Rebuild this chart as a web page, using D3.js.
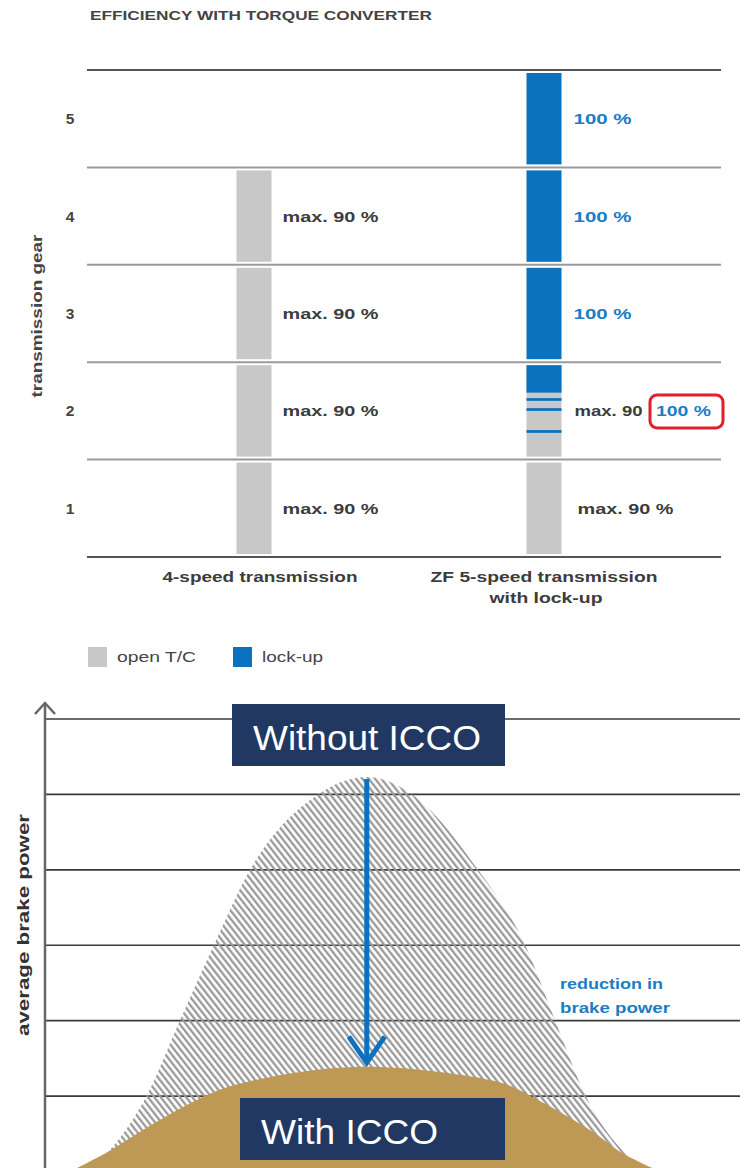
<!DOCTYPE html>
<html>
<head>
<meta charset="utf-8">
<script src="https://cdn.jsdelivr.net/npm/d3@7"></script>
<style>
  body { margin: 0; background: #fff; }
  svg { display: block; font-family: "Liberation Sans", Arial, sans-serif; }
</style>
</head>
<body>
<div id="chart"></div>
<script>
// ---- data ----
var gears = [5, 4, 3, 2, 1];
var transmissions = ["4-speed transmission", "ZF 5-speed transmission"];
// efficiency per gear (null = gear does not exist)
var fourSpeedEff = [null, 90, 90, 90, 90];
var zfEff = [100, 100, 100, "mixed", 90];
// gear 2 of the ZF box: lock-up share of the bar, as fractions from the top
var gear2LockupBands = [[0, 0.30], [0.36, 0.39], [0.47, 0.50], [0.71, 0.74]];
var legendItems = ["open T/C", "lock-up"];

// brake power curves (x: 0-100 drive cycle, y: grid units)
var withoutX = [6.5, 14.6, 19.4, 24.3, 29.5, 39.3, 46.3, 52.8, 62.3, 69.1, 73.4, 77.8, 86.3];
var withoutY = [0, 1.0, 2.0, 3.0, 4.0, 5.0, 5.23, 5.0, 4.0, 3.0, 2.0, 1.0, 0];
var withX = [3.6, 9.2, 14.1, 23.0, 29.6, 36.7, 46.3, 56.8, 64.7, 69.9, 78.4, 82.6, 88.5];
var withY = [0, 0.27, 0.55, 1.0, 1.2, 1.32, 1.39, 1.32, 1.2, 1.0, 0.55, 0.27, 0];
var gridLevels = [1, 2, 3, 4, 5, 6];

var svgWidth = 744;
var svgHeight = 1168;

var svg = d3.select("#chart")
    .append("svg")
    .attr("width", svgWidth)
    .attr("height", svgHeight);

var blue = "#0a72be";
var blueText = "#1b7dc6";
var grey = "#c8c8c8";
var textCol = "#3c3c3c";

// ================= upper chart =================
var yGear = d3.scaleBand()
    .domain(gears)
    .range([70, 557]);

var xTrans = d3.scalePoint()
    .domain(transmissions)
    .range([254, 544]);

var barW = 35;
var inset = 3;

svg.append("text")
    .attr("x", 90)
    .attr("y", 20)
    .attr("font-size", 13)
    .attr("font-weight", "bold")
    .attr("fill", "#444")
    .attr("textLength", 342)
    .attr("lengthAdjust", "spacingAndGlyphs")
    .text("EFFICIENCY WITH TORQUE CONVERTER");

// row lines
var rowEdges = gears.map(g => yGear(g)).concat([yGear.range()[1]]);
svg.selectAll(".row-line")
    .data(rowEdges)
    .enter()
    .append("line")
    .attr("x1", 87)
    .attr("x2", 721)
    .attr("y1", d => d)
    .attr("y2", d => d)
    .attr("stroke", (d, i) => (i === 0 || i === rowEdges.length - 1) ? "#555" : "#9a9a9a")
    .attr("stroke-width", 2);

// gear numbers
svg.selectAll(".gear-label")
    .data(gears)
    .enter()
    .append("text")
    .attr("x", 70)
    .attr("y", d => yGear(d) + yGear.bandwidth() / 2)
    .attr("dy", "0.35em")
    .attr("text-anchor", "middle")
    .attr("font-size", 15.5)
    .attr("font-weight", "bold")
    .attr("fill", "#444")
    .text(d => d);

svg.append("text")
    .attr("transform", "translate(42, 316) rotate(-90)")
    .attr("text-anchor", "middle")
    .attr("font-size", 14.5)
    .attr("font-weight", "bold")
    .attr("fill", "#444")
    .attr("textLength", 163)
    .attr("lengthAdjust", "spacingAndGlyphs")
    .text("transmission gear");

// 4-speed bars
gears.forEach(function (g, i) {
    var eff = fourSpeedEff[i];
    if (eff === null) return;
    var x0 = xTrans(transmissions[0]) - barW / 2;
    svg.append("rect")
        .attr("x", x0)
        .attr("y", yGear(g) + inset)
        .attr("width", barW)
        .attr("height", yGear.bandwidth() - 2 * inset)
        .attr("fill", grey);
    svg.append("text")
        .attr("x", x0 + barW + 11)
        .attr("y", yGear(g) + yGear.bandwidth() / 2)
        .attr("dy", "0.35em")
        .attr("font-size", 15.5)
        .attr("font-weight", "bold")
        .attr("fill", textCol)
        .attr("textLength", 96)
        .attr("lengthAdjust", "spacingAndGlyphs")
        .text("max. " + eff + " %");
});

// ZF bars
gears.forEach(function (g, i) {
    var eff = zfEff[i];
    var x0 = xTrans(transmissions[1]) - barW / 2;
    var y0 = yGear(g) + inset;
    var h = yGear.bandwidth() - 2 * inset;
    var cy = yGear(g) + yGear.bandwidth() / 2;
    svg.append("rect")
        .attr("x", x0)
        .attr("y", y0)
        .attr("width", barW)
        .attr("height", h)
        .attr("fill", eff === 100 ? blue : grey);

    if (eff === "mixed") {
        svg.selectAll(null)
            .data(gear2LockupBands)
            .enter()
            .append("rect")
            .attr("x", x0)
            .attr("y", d => y0 + d[0] * h)
            .attr("width", barW)
            .attr("height", d => (d[1] - d[0]) * h)
            .attr("fill", blue);
        svg.append("text")
            .attr("x", x0 + barW + 13)
            .attr("y", cy)
            .attr("dy", "0.35em")
            .attr("font-size", 15.5)
            .attr("font-weight", "bold")
            .attr("fill", textCol)
            .attr("textLength", 68)
            .attr("lengthAdjust", "spacingAndGlyphs")
            .text("max. 90");
        svg.append("rect")
            .attr("x", 650)
            .attr("y", cy - 16)
            .attr("width", 73)
            .attr("height", 33)
            .attr("rx", 7)
            .attr("fill", "none")
            .attr("stroke", "#e0202a")
            .attr("stroke-width", 3);
        svg.append("text")
            .attr("x", 656)
            .attr("y", cy)
            .attr("dy", "0.35em")
            .attr("font-size", 15.5)
            .attr("font-weight", "bold")
            .attr("fill", blueText)
            .attr("textLength", 55)
            .attr("lengthAdjust", "spacingAndGlyphs")
            .text("100 %");
    } else {
        svg.append("text")
            .attr("x", eff === 100 ? x0 + barW + 12 : x0 + barW + 16)
            .attr("y", cy)
            .attr("dy", "0.35em")
            .attr("font-size", 15.5)
            .attr("font-weight", "bold")
            .attr("fill", eff === 100 ? blueText : textCol)
            .attr("textLength", eff === 100 ? 58 : 96)
            .attr("lengthAdjust", "spacingAndGlyphs")
            .text(eff === 100 ? "100 %" : "max. " + eff + " %");
    }
});

// category labels
svg.append("text")
    .attr("x", xTrans(transmissions[0]) + 6)
    .attr("y", 582)
    .attr("text-anchor", "middle")
    .attr("font-size", 15.5)
    .attr("font-weight", "bold")
    .attr("fill", textCol)
    .attr("textLength", 195)
    .attr("lengthAdjust", "spacingAndGlyphs")
    .text(transmissions[0]);

var zfLabel = svg.append("text")
    .attr("text-anchor", "middle")
    .attr("font-size", 15.5)
    .attr("font-weight", "bold")
    .attr("fill", textCol);
zfLabel.append("tspan")
    .attr("x", xTrans(transmissions[1]))
    .attr("y", 582)
    .attr("textLength", 227)
    .attr("lengthAdjust", "spacingAndGlyphs")
    .text(transmissions[1]);
zfLabel.append("tspan")
    .attr("x", xTrans(transmissions[1]) + 2)
    .attr("y", 603)
    .attr("textLength", 113)
    .attr("lengthAdjust", "spacingAndGlyphs")
    .text("with lock-up");

// legend
var legend = svg.selectAll(".legend")
    .data(legendItems)
    .enter()
    .append("g")
    .attr("transform", (d, i) => `translate(${88 + i * 145}, 647)`);
legend.append("rect")
    .attr("width", 19)
    .attr("height", 20)
    .attr("fill", (d, i) => i === 0 ? grey : blue);
legend.append("text")
    .attr("x", 29)
    .attr("y", 10)
    .attr("dy", "0.35em")
    .attr("font-size", 15)
    .attr("fill", "#444")
    .attr("textLength", (d, i) => i === 0 ? 79 : 61)
    .attr("lengthAdjust", "spacingAndGlyphs")
    .text(d => d);

// ================= lower chart =================
var xP = d3.scaleLinear().domain([0, 100]).range([45, 740]);
var yP = d3.scaleLinear().domain([0, 6]).range([1171.5, 719]);

var defs = svg.append("defs");
var pat = defs.append("pattern")
    .attr("id", "hatch")
    .attr("patternUnits", "userSpaceOnUse")
    .attr("width", 5)
    .attr("height", 5)
    .attr("patternTransform", "rotate(-38)");
pat.append("rect")
    .attr("x", 0)
    .attr("y", 0)
    .attr("width", 2.3)
    .attr("height", 5)
    .attr("fill", "#999");

// grid lines
svg.selectAll(".grid")
    .data(gridLevels)
    .enter()
    .append("line")
    .attr("x1", xP(0))
    .attr("x2", 740)
    .attr("y1", d => yP(d))
    .attr("y2", d => yP(d))
    .attr("stroke", "#3a3a3a")
    .attr("stroke-width", 1.6);

var area = d3.area()
    .x(d => xP(d[0]))
    .y0(yP(0))
    .y1(d => yP(d[1]))
    .curve(d3.curveMonotoneX);

svg.append("path")
    .datum(withoutX.map((x, i) => [x, withoutY[i]]))
    .attr("d", area)
    .attr("fill", "url(#hatch)");

svg.append("path")
    .datum(withX.map((x, i) => [x, withY[i]]))
    .attr("d", area.curve(d3.curveNatural))
    .attr("fill", "#be9855");

// y axis with arrow
svg.append("line")
    .attr("x1", 45)
    .attr("x2", 45)
    .attr("y1", 703)
    .attr("y2", svgHeight)
    .attr("stroke", "#666")
    .attr("stroke-width", 2.5);
svg.append("path")
    .attr("d", "M35,714 L45,703 L55,714")
    .attr("fill", "none")
    .attr("stroke", "#666")
    .attr("stroke-width", 2.5);

svg.append("text")
    .attr("transform", "translate(29, 925) rotate(-90)")
    .attr("text-anchor", "middle")
    .attr("font-size", 17)
    .attr("font-weight", "bold")
    .attr("fill", "#333")
    .attr("textLength", 222)
    .attr("lengthAdjust", "spacingAndGlyphs")
    .text("average brake power");

// reduction arrow
var peakX = xP(withoutX[6]);
var tipY = yP(withY[6]) - 4;
svg.append("line")
    .attr("x1", peakX)
    .attr("x2", peakX)
    .attr("y1", yP(withoutY[6]) + 2)
    .attr("y2", tipY)
    .attr("stroke", blue)
    .attr("stroke-width", 5);
svg.append("path")
    .attr("d", `M${peakX - 18},${tipY - 26} L${peakX},${tipY} L${peakX + 18},${tipY - 26}`)
    .attr("fill", "none")
    .attr("stroke", blue)
    .attr("stroke-width", 5);

var redText = svg.append("text")
    .attr("font-size", 15.5)
    .attr("font-weight", "bold")
    .attr("fill", blueText);
redText.append("tspan")
    .attr("x", 560)
    .attr("y", 989)
    .attr("textLength", 103)
    .attr("lengthAdjust", "spacingAndGlyphs")
    .text("reduction in");
redText.append("tspan")
    .attr("x", 560)
    .attr("y", 1013)
    .attr("textLength", 110)
    .attr("lengthAdjust", "spacingAndGlyphs")
    .text("brake power");

// label boxes
var boxes = [
    { label: "Without ICCO", x: 232, y: 704, w: 273, h: 62, len: 228 },
    { label: "With ICCO", x: 240, y: 1098, w: 265, h: 62, len: 177 }
];
var boxG = svg.selectAll(".box")
    .data(boxes)
    .enter()
    .append("g");
boxG.append("rect")
    .attr("x", d => d.x)
    .attr("y", d => d.y)
    .attr("width", d => d.w)
    .attr("height", d => d.h)
    .attr("fill", "#213862");
boxG.append("text")
    .attr("x", d => d.x + 21)
    .attr("y", d => d.y + 46)
    .attr("font-size", 35)
    .attr("fill", "#fff")
    .attr("textLength", d => d.len)
    .attr("lengthAdjust", "spacingAndGlyphs")
    .text(d => d.label);
</script>
</body>
</html>
